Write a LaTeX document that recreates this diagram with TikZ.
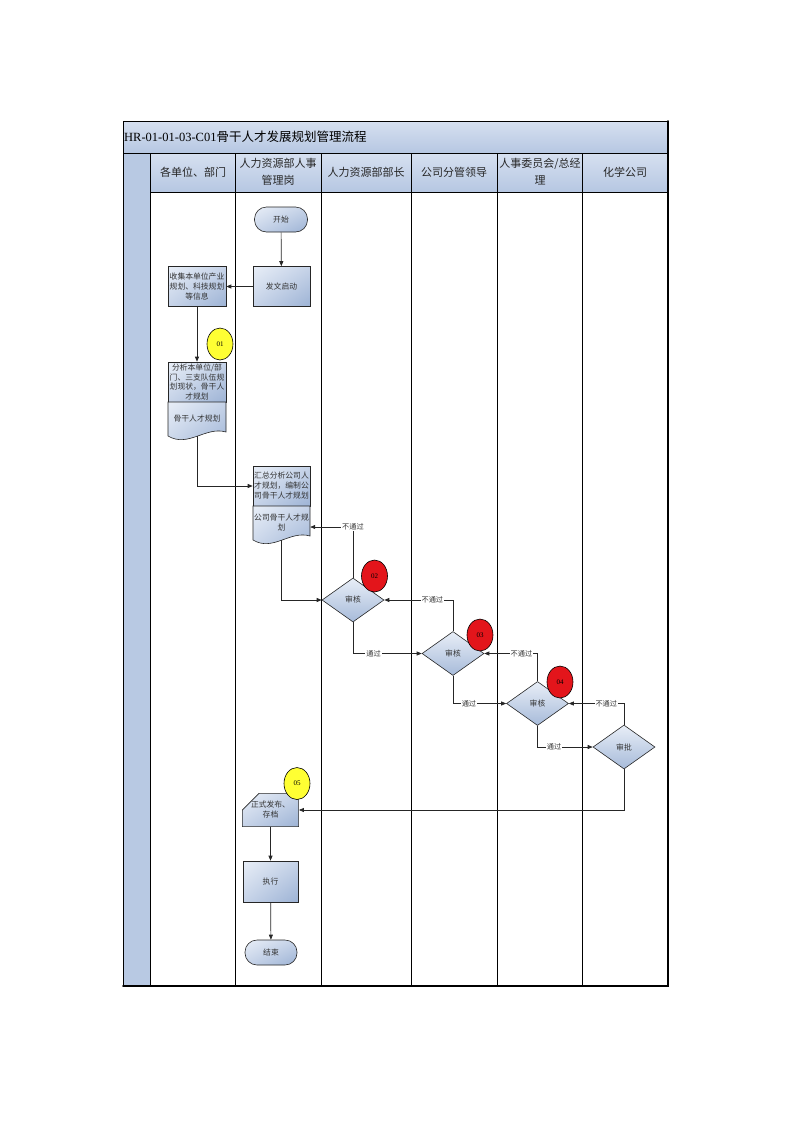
\documentclass[tikz,border=0pt]{standalone}
\usepackage{fontspec}
\setmainfont{Liberation Serif}
\newfontfamily\cjk{Noto Sans CJK SC}
\usepackage{tikz}
\usetikzlibrary{shapes.geometric,shapes.misc,shadings,arrows.meta}
\definecolor{boxlight}{HTML}{E8EEF7}
\definecolor{boxmid}{HTML}{C6D3E8}
\definecolor{boxdark}{HTML}{9DB3D5}
\definecolor{headtop}{HTML}{D6E0F0}
\definecolor{headbot}{HTML}{B6C7E2}
\definecolor{strip}{HTML}{B8C9E3}
\definecolor{markyellow}{HTML}{FFFF33}
\definecolor{markred}{HTML}{E3151B}
% wavy document outline: left x, top y, right x, bottom y
\newcommand{\docpath}[4]{%
  \shade[boxshade, draw=black!85, line width=0.6pt] (#1,#2) -- (#3,#2) -- (#3,#4-4)
    .. controls (#1*0.35+#3*0.65,#4-10) and (#1*0.65+#3*0.35,#4+12) .. (#1,#4) -- cycle;}

\begin{document}
\begin{tikzpicture}[x=1pt,y=-1pt,
    boxshade/.style={upper left=boxlight, upper right=boxmid, lower left=boxmid, lower right=boxdark},
    headshade/.style={top color=headtop, bottom color=headbot},
    boxtext/.style={font=\cjk\fontsize{7.8}{10}\selectfont, text=black!80, align=center, inner sep=0pt},
    proc/.style={rectangle, draw=black!85, line width=0.6pt, boxshade, boxtext, minimum width=57pt, minimum height=40pt},
    term/.style={rectangle, rounded corners=12pt, draw=black!85, line width=0.6pt, boxshade, boxtext, minimum width=53pt, minimum height=25pt},
    docbox/.style={rectangle, boxtext, minimum width=57pt, minimum height=34pt},
    cardbox/.style={chamfered rectangle, chamfered rectangle corners=north west, chamfered rectangle xsep=9pt, chamfered rectangle ysep=8pt, draw=black!85, line width=0.6pt, boxshade, boxtext, minimum width=55pt, minimum height=30pt},
    decide/.style={diamond, draw=black!85, line width=0.6pt, top color=boxlight, bottom color=boxdark!90, boxtext, minimum width=62pt, minimum height=44pt},
    stepmark/.style={ellipse, draw=black, line width=0.6pt, minimum width=26pt, minimum height=32pt, inner sep=0pt, font=\fontsize{7}{8}\selectfont},
    lanehead/.style={font=\cjk\fontsize{11}{17}\selectfont, text=black!85, align=center, inner sep=0pt},
    flow/.style={draw=black!85, line width=0.7pt, -{Triangle[length=5pt,width=4pt]}},
    tag/.style={fill=white, inner sep=1pt, font=\cjk\fontsize{7.2}{8}\selectfont, text=black!80}]
    \useasboundingbox (0,0) rectangle (793,1122);
    % title band and lane heads
    \shade[headshade] (123,121) rectangle (668,153);
    \node[anchor=west, font=\fontsize{12.5}{14}\selectfont, inner sep=0pt] (title) at (124,137) {HR-01-01-03-C01{\cjk 骨干人才发展规划管理流程}};
    \fill[strip] (123,153) rectangle (150,986);
    \foreach \xl/\xr in {150/235, 235/321, 321/411, 411/497, 497/582, 582/668}
        \shade[headshade] (\xl,153) rectangle (\xr,192);
    \draw[line width=1pt] (123,153) -- (668,153);
    \draw[line width=1pt] (150,192) -- (668,192);
    \foreach \xv in {150, 235, 321, 411, 497, 582}
        \draw[line width=1pt] (\xv,153) -- (\xv,986);
    \draw[line width=1pt] (123,121) rectangle (668,986);
    \draw[line width=1.6pt, line cap=round] (123,986) -- (668,986) -- (668,121);
    \node[lanehead] (unitlane) at (193,172) {各单位、部门};
    \node[lanehead] (hrlane) at (278,172) {人力资源部人事\\管理岗};
    \node[lanehead] (headlane) at (366,172) {人力资源部部长};
    \node[lanehead] (leadlane) at (454,172) {公司分管领导};
    \node[lanehead] (boardlane) at (540,172) {人事委员会/总经\\理};
    \node[lanehead] (grouplane) at (625,172) {化学公司};
    % steps
    \node[term] (start) at (281,219.5) {开始};
    \node[proc] (launch) at (281.5,286.5) {发文启动};
    \node[proc, minimum width=58pt] (collect) at (197,286.5) {收集本单位产业\\规划、科技规划\\等信息};
    \node[proc, minimum width=58pt, font=\cjk\fontsize{7.8}{9.6}\selectfont] (analyse) at (197,382) {分析本单位/部\\门、三支队伍规\\划现状，骨干人\\才规划};
    \docpath{168}{402}{226}{436}
    \node[docbox] (plan) at (197,419) {骨干人才规划};
    \node[stepmark, fill=markyellow] (mark1) at (220,344) {01};
    \node[proc] (summary) at (281.5,486) {汇总分析公司人\\才规划，编制公\\司骨干人才规划};
    \docpath{253}{506}{310}{540}
    \node[docbox] (hrplan) at (281.5,523) {公司骨干人才规\\划};
    \node[decide] (check1) at (353,600) {审核};
    \node[stepmark, fill=markred] (mark2) at (374.5,576) {02};
    \node[decide] (check2) at (453,653.5) {审核};
    \node[stepmark, fill=markred] (mark3) at (480,635) {03};
    \node[decide] (check3) at (537.5,703.5) {审核};
    \node[stepmark, fill=markred] (mark4) at (560,682) {04};
    \node[decide] (approve) at (624,747) {审批};
    \node[cardbox] (publish) at (270.5,810) {正式发布、\\存档};
    \node[stepmark, fill=markyellow] (mark5) at (297,783.5) {05};
    \node[proc, minimum width=55pt, minimum height=41pt] (execute) at (270.5,881.5) {执行};
    \node[term, minimum width=52pt] (finish) at (271,952.5) {结束};
    % connectors
    \draw[flow] (start) -- (launch);
    \draw[flow] (launch) -- (collect);
    \draw[flow] (collect) -- (analyse);
    \draw[flow] (plan.south) |- (summary.west);
    \draw[flow] (hrplan.south) |- (check1.west);
    \draw[flow] (check1.north) |- node[tag, pos=0.5] {不通过} ([yshift=-4pt]hrplan.east);
    \draw[flow] (check1.south) |- node[tag, pos=0.65] {通过} (check2.west);
    \draw[flow] (check2.north) |- node[tag, pos=0.65] {不通过} (check1.east);
    \draw[flow] (check2.south) |- node[tag, pos=0.65] {通过} (check3.west);
    \draw[flow] (check3.north) |- node[tag, pos=0.65] {不通过} (check2.east);
    \draw[flow] (check3.south) |- node[tag, pos=0.65] {通过} (approve.west);
    \draw[flow] (approve.north) |- node[tag, pos=0.66] {不通过} (check3.east);
    \draw[flow] (approve.south) |- (publish.east);
    \draw[flow] (publish) -- (execute);
    \draw[flow] (execute) -- (finish);
\end{tikzpicture}
\end{document}
